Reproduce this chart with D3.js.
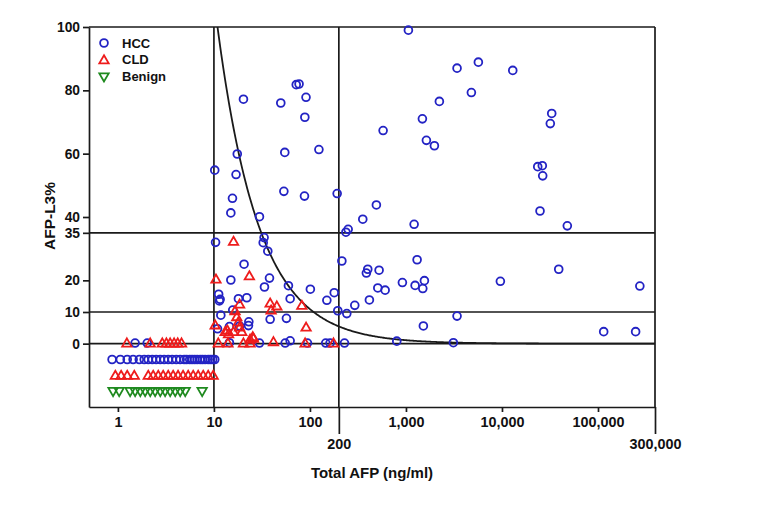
<!DOCTYPE html>
<html><head><meta charset="utf-8">
<script src="https://cdn.jsdelivr.net/npm/d3@7"></script>
<style>
body{margin:0;background:#fff}
svg{display:block}
text{font-family:"Liberation Sans",Arial,sans-serif;font-weight:bold;fill:#111}
</style>
</head><body>
<svg id="c" width="764" height="528"></svg>
<script>
// ---------- data ----------
// HCC, detectable AFP-L3
const hccAFP=[1060,72,77,91,20.3,49.7,88.5,2228,1483,578,1632,1977,17.5,54.7,124,10.2,17.0,53.5,87.7,192,15.6,15.0,29.8,492,355,
 3404,5675,12950,4800,32960,31860,23570,26300,26550,24900,1216,47900,1306,39000,918,1245,1556,1497,9620,224000,3404,1518,111600,206500,3117,
 250,237,10.4,33.3,32.6,36.4,215,20.6,400,387,525,15.0,37.9,33.6,59.7,101,509,607,179,150,416,293,62.2,22.0,18.0,11.2,11.6,11.4,
 15.7,195,242,11.8,56.9,38.5,23.1,22.9,18.5,14.5,10.9,29.8,55.2,62.2,94.2,146,162,229,802,14.5,1.51,2.02];
const hccL3=[99.0,81.8,82.0,77.8,77.2,76.0,71.5,76.5,71.0,67.3,64.2,62.5,59.9,60.4,61.3,54.8,53.4,48.1,46.6,47.4,45.9,41.3,40.1,43.8,39.3,
 87.0,88.9,86.3,79.3,72.7,69.5,55.9,56.2,53.0,41.9,37.7,37.2,26.5,23.5,19.3,18.4,19.9,17.4,19.7,18.2,8.7,5.6,3.8,3.8,0.3,
 36.1,35.2,32.0,33.5,31.9,29.2,26.1,25.1,23.5,22.3,23.2,20.1,20.7,17.9,18.3,17.2,17.6,16.9,16.1,13.7,13.8,12.1,14.2,14.5,14.2,15.6,14.0,13.5,
 10.6,10.4,9.5,9.0,8.0,7.7,6.9,5.7,5.6,5.4,4.7,0.2,0.2,0.9,0.2,0.2,0.2,0.2,0.8,0.3,0.2,0.2];
// HCC, AFP-L3 not measurable (plotted in the row below 0)
const hccUndetAFP=[0.87,1.06,1.25,1.44,1.67,1.88,2.07,2.28,2.5,2.76,3.03,3.34,3.67,4.05,4.45,4.9,5.2,5.6,5.93,6.3,6.7,7.19,7.6,8.1,8.71,9.2,9.7,10.2];
const hccUndetRow=-5;

// CLD
const cldAFP=[16.0,10.5,23.4,18.5,16.6,17.3,38.5,45.2,39.4,82.3,91.2,10.3,13.8,18.5,19.5,25.4,23.8,17.9,13.1,14.2,16.0,
 11.1,14.0,20.3,23.8,25.8,41.7,89.1,176,1.24,2.17,2.9,3.2,3.5,3.85,4.2,4.6];
const cldL3=[32.3,20.4,21.4,12.5,10.4,8.5,12.8,11.9,10.6,12.1,5.2,5.9,4.3,5.2,3.8,2.2,1.4,6.8,3.8,3.1,3.8,
 0.2,0.2,0.2,0.2,1.7,0.6,0.2,0.2,0.2,0.2,0.2,0.2,0.2,0.2,0.2,0.2];
const cldUndetAFP=[0.94,1.08,1.25,1.48,2.07,2.33,2.63,2.96,3.34,3.76,4.23,4.77,5.39,6.08,6.85,7.73,8.71,9.82];
const cldUndetRow=-10;

// Benign (all AFP-L3 not measurable)
const benignUndetAFP=[0.89,1.03,1.34,1.51,1.71,1.92,2.17,2.44,2.76,3.1,3.5,3.95,4.45,5.02,7.54];
const benignUndetRow=-15;

// axes / reference lines
const xTicks=[1,10,100,1000,10000,100000];
const xTickLabels=["1","10","100","1,000","10,000","100,000"];
const xCutTicks=[200,300000];
const xCutLabels=["200","300,000"];
const yTicks=[0,10,20,35,40,60,80,100];
const yRefLines=[0,10,35];
const xRefLines=[10,200];
const curveK=1090;   // iso-line: AFP-L3% = K / total AFP
const seriesNames=["HCC","CLD","Benign"];
const seriesColors=["#2323c4","#ee1c1c","#1f8a1f"];

// ---------- layout ----------
const L=89,R=655,T=27,B=407;
const svg=d3.select("#c");
const lx=d3.scaleLinear().domain([Math.log10(0.5),5,Math.log10(300000)]).range([L,598,R]);
const x=v=>lx(Math.log10(v));
const y=d3.scaleLinear().domain([-20,100]).range([B,T]);
const lineCol="#1a1a1a", lw=1.7;

svg.append("defs").append("clipPath").attr("id","clip")
  .append("rect").attr("x",L).attr("y",T).attr("width",R-L).attr("height",B-T);

// reference lines
svg.append("g").selectAll("line").data(yRefLines).join("line")
  .attr("x1",L).attr("x2",R).attr("y1",d=>y(d)).attr("y2",d=>y(d))
  .attr("stroke",lineCol).attr("stroke-width",lw);
svg.append("g").selectAll("line").data(xRefLines).join("line")
  .attr("x1",d=>x(d)).attr("x2",d=>x(d)).attr("y1",T).attr("y2",B)
  .attr("stroke",lineCol).attr("stroke-width",lw);
// frame top/right
svg.append("line").attr("x1",L).attr("x2",R).attr("y1",T).attr("y2",T).attr("stroke",lineCol).attr("stroke-width",lw);
svg.append("line").attr("x1",R).attr("x2",R).attr("y1",T).attr("y2",B).attr("stroke",lineCol).attr("stroke-width",lw);

// curve
const curvePts=d3.range(Math.log10(curveK/105),Math.log10(300000)+0.001,0.01).map(l=>[Math.pow(10,l),curveK/Math.pow(10,l)]);
svg.append("path").attr("clip-path","url(#clip)")
  .attr("d",d3.line().x(d=>x(d[0])).y(d=>y(d[1]))(curvePts))
  .attr("fill","none").attr("stroke",lineCol).attr("stroke-width",1.8);

// axes
const ax=svg.append("g").attr("transform",`translate(0,${B})`)
  .call(d3.axisBottom(lx).tickValues(xTicks.map(Math.log10)).tickFormat((d,i)=>xTickLabels[i]).tickSize(5).tickSizeOuter(0).tickPadding(5));
const ax2=svg.append("g").attr("transform",`translate(0,${B})`)
  .call(d3.axisBottom(lx).tickValues(xCutTicks.map(Math.log10)).tickFormat((d,i)=>xCutLabels[i]).tickSize(27).tickSizeOuter(0).tickPadding(5));
ax2.select(".domain").remove();
const ay=svg.append("g").attr("transform",`translate(${L},0)`)
  .call(d3.axisLeft(y).tickValues(yTicks).tickSize(6).tickSizeOuter(0).tickPadding(3));
[ax,ax2,ay].forEach(g=>{
  g.selectAll("path,line").attr("stroke",lineCol).attr("stroke-width",lw);
  g.selectAll("text").attr("fill","#111");
});
ax.selectAll("text").style("font-size","14.4px");
ax2.selectAll("text").style("font-size","14.4px");
ay.selectAll("text").style("font-size","13.8px");

// axis titles
svg.append("text").attr("x",372).attr("y",478).attr("text-anchor","middle").style("font-size","15px").text("Total AFP (ng/ml)");
svg.append("text").attr("transform","translate(55,216) rotate(-90)").attr("text-anchor","middle").style("font-size","15.5px").text("AFP-L3%");

// markers
const plot=svg.append("g");
const tri=d3.symbol().type(d3.symbolTriangle).size(38)();
function circles(xs,ys,col){
  plot.append("g").selectAll("circle").data(xs.map((v,i)=>[v,ys[i]])).join("circle")
   .attr("cx",d=>x(d[0])).attr("cy",d=>y(d[1])).attr("r",3.9)
   .attr("fill","none").attr("stroke",col).attr("stroke-width",1.8);
}
function tris(xs,ys,col,down){
  plot.append("g").selectAll("path").data(xs.map((v,i)=>[v,ys[i]])).join("path")
   .attr("d",tri).attr("transform",d=>`translate(${x(d[0])},${y(d[1])+(down?-0.5:0.8)})${down?" rotate(180)":""}`)
   .attr("fill","none").attr("stroke",col).attr("stroke-width",1.8).attr("stroke-linejoin","miter");
}
circles(hccAFP,hccL3,seriesColors[0]);
circles(hccUndetAFP,hccUndetAFP.map(()=>hccUndetRow),seriesColors[0]);
tris(cldAFP,cldL3,seriesColors[1],false);
tris(cldUndetAFP,cldUndetAFP.map(()=>cldUndetRow),seriesColors[1],false);
tris(benignUndetAFP,benignUndetAFP.map(()=>benignUndetRow),seriesColors[2],true);

// legend
const lg=svg.append("g");
seriesNames.forEach((n,i)=>{
  const cy=43+i*16.8, cx=104;
  if(i===0) lg.append("circle").attr("cx",cx).attr("cy",cy).attr("r",3.9).attr("fill","none").attr("stroke",seriesColors[0]).attr("stroke-width",1.8);
  else lg.append("path").attr("d",tri).attr("transform",`translate(${cx},${cy+(i===2?-0.5:0.8)})${i===2?" rotate(180)":""}`)
       .attr("fill","none").attr("stroke",seriesColors[i]).attr("stroke-width",1.8);
  lg.append("text").attr("x",122).attr("y",cy).attr("dy","0.36em").style("font-size","13px").text(n);
});
</script>
</body></html>
